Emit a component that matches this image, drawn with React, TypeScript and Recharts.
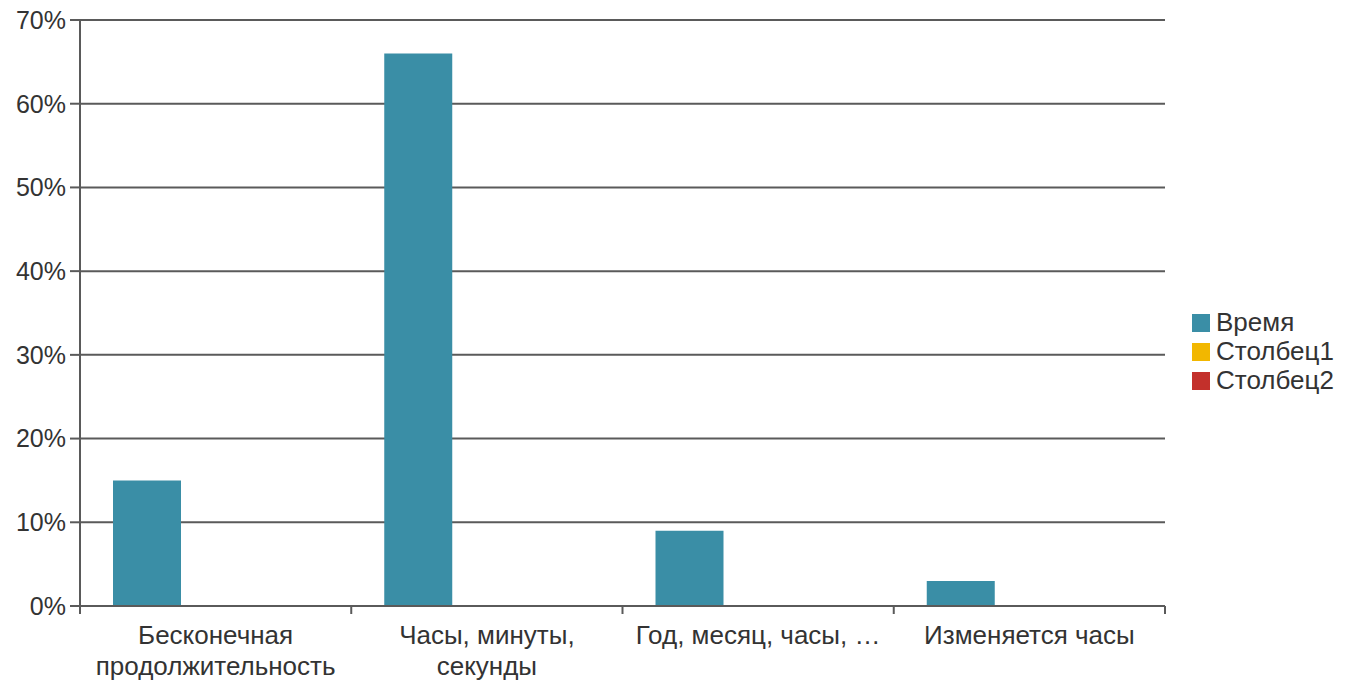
import { BarChart, Bar, XAxis, YAxis, CartesianGrid } from 'recharts';

// Categories (line breaks as in the original labels)
const categories = [
    'Бесконечная\nпродолжительность',
    'Часы, минуты,\nсекунды',
    'Год, месяц, часы, …',
    'Изменяется часы',
];

// Series values, percent
const vremya = [15, 66, 9, 3];
const stolbec1 = [0, 0, 0, 0];
const stolbec2 = [0, 0, 0, 0];

const yTicks = [0, 10, 20, 30, 40, 50, 60, 70];

const SERIES = [
    { key: 'Время', values: vremya, color: '#3a8ea6' },
    { key: 'Столбец1', values: stolbec1, color: '#f2b700' },
    { key: 'Столбец2', values: stolbec2, color: '#c3302b' },
];

const W = 1345;
const H = 682;
const MARGIN = { top: 20, right: 180, left: 0, bottom: 0 };
const Y_WIDTH = 80;
const X_HEIGHT = 76;
const FONT = '"Liberation Sans", Arial, sans-serif';
const AXIS = '#5a5a5a';

const data = categories.map((c, i) => {
    const row: any = { name: c };
    SERIES.forEach(s => { row[s.key] = s.values[i]; });
    return row;
});

const plotWidth = W - MARGIN.left - MARGIN.right - Y_WIDTH;
const band = plotWidth / categories.length;

const CategoryTick = ({ x, y, payload, index }: any) => {
    const lines = String(payload.value).split('\n');
    return (
        <g>
            <line x1={x - band / 2} y1={y - 8} x2={x - band / 2} y2={y} stroke={AXIS} strokeWidth={2} />
            {index === categories.length - 1 && (
                <line x1={x + band / 2} y1={y - 8} x2={x + band / 2} y2={y} stroke={AXIS} strokeWidth={2} />
            )}
            <text x={x} y={y + 30} textAnchor="middle" fill="#333" fontSize={26} fontFamily={FONT}>
                {lines.map((l, i) => (
                    <tspan key={i} x={x} dy={i === 0 ? 0 : 31}>{l}</tspan>
                ))}
            </text>
        </g>
    );
};

// legend drawn beside the plot
const ChartLegend = () => (
    <ul style={{ position: 'absolute', left: 1192, top: 308, listStyle: 'none', margin: 0, padding: 0, fontFamily: FONT }}>
        {SERIES.map(s => (
            <li key={s.key} style={{ display: 'flex', alignItems: 'center', height: 29 }}>
                <span style={{ width: 18, height: 18, background: s.color, display: 'inline-block', marginRight: 6 }} />
                <span style={{ fontSize: 26, color: '#333', lineHeight: '29px' }}>{s.key}</span>
            </li>
        ))}
    </ul>
);

export default function App() {
    return (
        <div style={{ position: 'absolute', left: 0, top: 0, width: W, height: H, background: '#fff' }}>
            <BarChart
                width={W}
                height={H}
                data={data}
                margin={MARGIN}
                barCategoryGap={33}
                barGap={0}
            >
                <CartesianGrid horizontal vertical={false} stroke={AXIS} strokeWidth={2} />
                <XAxis
                    dataKey="name"
                    height={X_HEIGHT}
                    interval={0}
                    tickLine={false}
                    axisLine={{ stroke: AXIS, strokeWidth: 2 }}
                    tick={<CategoryTick />}
                />
                <YAxis
                    width={Y_WIDTH}
                    domain={[0, 70]}
                    ticks={yTicks}
                    interval={0}
                    tickFormatter={(v: number) => `${v}%`}
                    tickSize={10}
                    tickMargin={4}
                    tickLine={{ stroke: AXIS, strokeWidth: 2 }}
                    axisLine={{ stroke: AXIS, strokeWidth: 2 }}
                    tick={{ fill: '#333', fontSize: 25, fontFamily: FONT }}
                />
                {SERIES.map(s => (
                    <Bar key={s.key} dataKey={s.key} fill={s.color} isAnimationActive={false} />
                ))}
            </BarChart>
            <ChartLegend />
        </div>
    );
}
